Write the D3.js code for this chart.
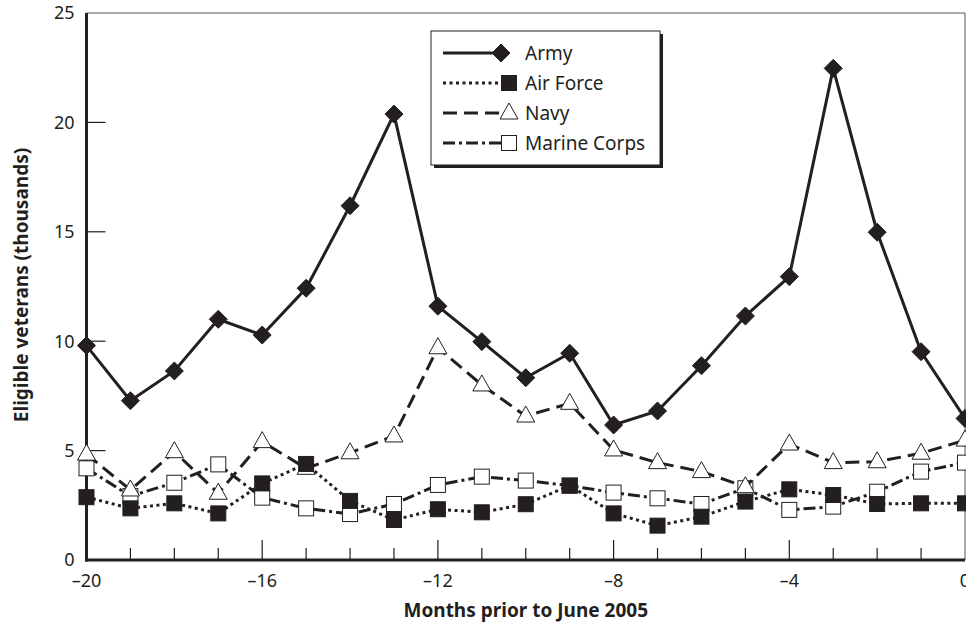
<!DOCTYPE html>
<html>
<head>
<meta charset="utf-8">
<script src="https://cdn.jsdelivr.net/npm/d3@7"></script>
<style>
  body { margin: 0; background: #fff; }
  text { font-family: "Noto Sans", "Open Sans", sans-serif; fill: #231f20; }
</style>
</head>
<body>
<svg id="chart" width="966" height="629"></svg>
<script>
// months prior to June 2005
var months = d3.range(-20, 1);
var army = [9.8, 7.28, 8.64, 11.0, 10.28, 12.42, 16.19, 20.38, 11.6, 9.98, 8.33, 9.45, 6.17, 6.81, 8.88, 11.15, 12.95, 22.47, 14.98, 9.52, 6.47];
var airForce = [2.87, 2.36, 2.59, 2.13, 3.5, 4.39, 2.7, 1.83, 2.32, 2.18, 2.55, 3.4, 2.13, 1.57, 1.98, 2.67, 3.23, 2.97, 2.56, 2.59, 2.59];
var navy = [4.84, 3.2, 4.95, 3.05, 5.41, 4.19, 4.9, 5.67, 9.7, 8.0, 6.58, 7.16, 5.03, 4.45, 4.04, 3.35, 5.3, 4.45, 4.49, 4.88, 5.48];
var marines = [4.19, 2.92, 3.53, 4.37, 2.85, 2.36, 2.1, 2.56, 3.43, 3.81, 3.63, 3.4, 3.08, 2.82, 2.56, 3.28, 2.29, 2.44, 3.12, 4.04, 4.45];
var yTicks = [0, 5, 10, 15, 20, 25];
var xTicks = [-20, -16, -12, -8, -4, 0];

(function() {
  var ink = "#231f20";
  var series = [
    { name: "Army", values: army, dash: null, marker: "diamond", fill: ink },
    { name: "Air Force", values: airForce, dash: "3,3.5", marker: "square", fill: ink },
    { name: "Navy", values: navy, dash: "14,7", marker: "triangle", fill: "#fff" },
    { name: "Marine Corps", values: marines, dash: "12,4,3,4", marker: "square", fill: "#fff" }
  ];

  var svg = d3.select("#chart");
  var mLeft = 86.5, mRight = 965, mTop = 13, mBottom = 560;

  var x = d3.scaleLinear().domain([-20, 0]).range([mLeft, mRight]);
  var y = d3.scaleLinear().domain([0, 25]).range([mBottom, mTop]);

  // frame: thin top/right, thick left/bottom
  svg.append("line").attr("x1", mLeft).attr("x2", mRight).attr("y1", mTop).attr("y2", mTop)
    .attr("stroke", "#555").attr("stroke-width", 1);
  svg.append("line").attr("x1", mRight).attr("x2", mRight).attr("y1", mTop).attr("y2", mBottom)
    .attr("stroke", "#555").attr("stroke-width", 1);

  // y ticks (inside)
  var gy = svg.append("g");
  gy.selectAll("line").data(yTicks.slice(1, -1)).enter().append("line")
    .attr("x1", mLeft).attr("x2", mLeft + 19)
    .attr("y1", function(d) { return y(d); }).attr("y2", function(d) { return y(d); })
    .attr("stroke", ink).attr("stroke-width", 1.2);
  gy.selectAll("text").data(yTicks).enter().append("text")
    .attr("x", mLeft - 12).attr("y", function(d) { return y(d); })
    .attr("dy", "0.36em").attr("text-anchor", "end")
    .style("font-size", "18px")
    .text(function(d) { return d; });

  // x ticks (inside, minor every month)
  var gx = svg.append("g");
  gx.selectAll("line").data(months.slice(1, -1)).enter().append("line")
    .attr("x1", function(d) { return x(d); }).attr("x2", function(d) { return x(d); })
    .attr("y1", mBottom).attr("y2", function(d) { return d % 4 === 0 ? mBottom - 20 : mBottom - 12; })
    .attr("stroke", ink).attr("stroke-width", 1.2);
  gx.selectAll("text").data(xTicks).enter().append("text")
    .attr("x", function(d) { return x(d); }).attr("y", 581)
    .attr("dy", "0.36em").attr("text-anchor", "middle")
    .style("font-size", "18px")
    .text(function(d) { return d === 0 ? "0" : "\u2013" + Math.abs(d); });

  svg.append("line").attr("x1", mLeft).attr("x2", mLeft).attr("y1", mTop).attr("y2", mBottom + 1.5)
    .attr("stroke", ink).attr("stroke-width", 3);
  svg.append("line").attr("x1", mLeft - 1.5).attr("x2", mRight).attr("y1", mBottom).attr("y2", mBottom)
    .attr("stroke", ink).attr("stroke-width", 3);

  // axis titles
  svg.append("text")
    .attr("transform", "translate(21,285) rotate(-90)")
    .attr("text-anchor", "middle").attr("dy", "0.35em")
    .style("font-size", "19px").style("font-weight", "bold")
    .text("Eligible veterans (thousands)");
  svg.append("text")
    .attr("x", (mLeft + mRight) / 2).attr("y", 617)
    .attr("text-anchor", "middle")
    .style("font-size", "19px").style("font-weight", "bold")
    .text("Months prior to June 2005");

  function marker(sel, type) {
    if (type === "diamond") {
      sel.append("path").attr("d", "M0,-9L9,0L0,9L-9,0Z");
    } else if (type === "square") {
      sel.append("rect").attr("x", -7.5).attr("y", -7.5).attr("width", 15).attr("height", 15);
    } else {
      sel.append("path").attr("d", "M0,-10L9,6L-9,6Z");
    }
  }

  var line = d3.line()
    .x(function(d, i) { return x(months[i]); })
    .y(function(d) { return y(d); });

  // draw in reverse so Army sits on top
  series.slice().reverse().forEach(function(s) {
    var g = svg.append("g");
    g.append("path").attr("d", line(s.values))
      .attr("fill", "none").attr("stroke", ink).attr("stroke-width", 3)
      .attr("stroke-dasharray", s.dash);
    g.selectAll("g").data(s.values).enter().append("g")
      .attr("transform", function(d, i) { return "translate(" + x(months[i]) + "," + y(d) + ")"; })
      .call(marker, s.marker)
      .selectAll("path,rect")
        .attr("fill", s.fill).attr("stroke", ink).attr("stroke-width", 1);
  });

  // legend
  var lg = svg.append("g").attr("transform", "translate(431,31)");
  lg.append("rect").attr("x", 3).attr("y", 3).attr("width", 229).attr("height", 134).attr("fill", ink);
  lg.append("rect").attr("x", 0).attr("y", 0).attr("width", 229).attr("height", 134)
    .attr("fill", "#fff").attr("stroke", ink).attr("stroke-width", 1);
  series.forEach(function(s, i) {
    var row = lg.append("g").attr("transform", "translate(0," + (22 + i * 30) + ")");
    row.append("line").attr("x1", 12).attr("x2", 70).attr("y1", 0).attr("y2", 0)
      .attr("stroke", ink).attr("stroke-width", 3).attr("stroke-dasharray", s.dash);
    row.append("g").attr("transform", "translate(" + (s.marker === "diamond" ? 70 : 78) + ",0)")
      .call(marker, s.marker)
      .selectAll("path,rect")
        .attr("fill", s.fill).attr("stroke", ink).attr("stroke-width", 1);
    row.append("text").attr("x", 94).attr("y", 0).attr("dy", "0.36em")
      .style("font-size", "19px").text(s.name);
  });
})();
</script>
</body>
</html>
